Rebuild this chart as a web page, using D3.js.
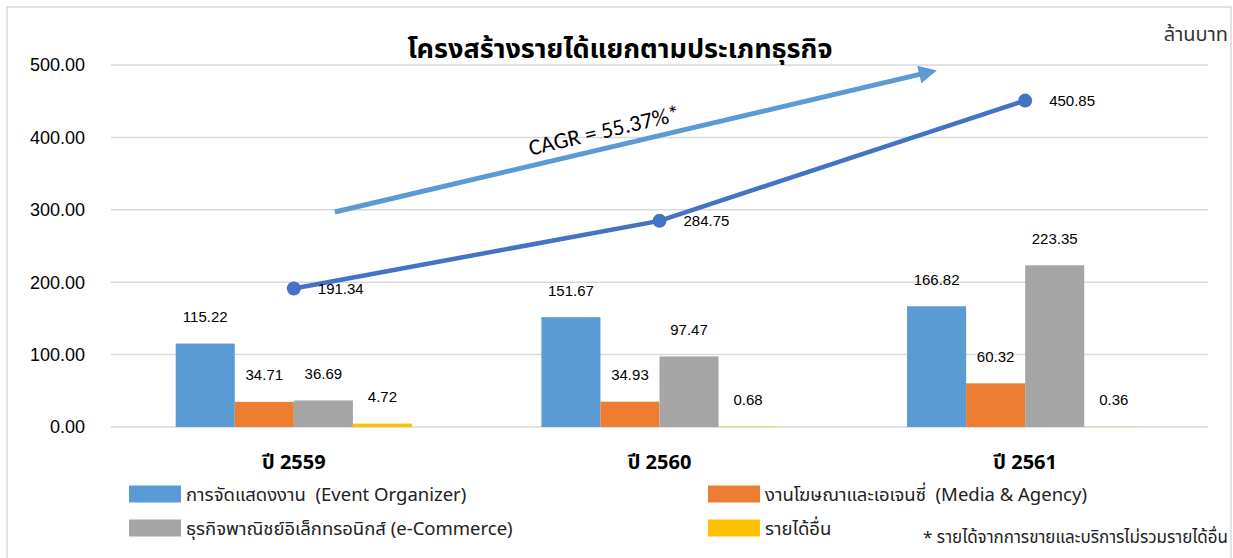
<!DOCTYPE html>
<html>
<head>
<meta charset="utf-8">
<script src="https://cdn.jsdelivr.net/npm/d3@7"></script>
<style>
  body { margin: 0; background: #fff; }
  svg text { font-family: "Liberation Sans", Arial, "Noto Sans Thai", "Noto Sans", sans-serif; }
  .thai { font-family: "Noto Sans Thai", "Tahoma", "Loma", "Garuda", "Noto Sans", sans-serif; }
  .pre { white-space: pre; }
</style>
</head>
<body>
<div id="chart"></div>
<script>
// data
const years = ["ปี 2559", "ปี 2560", "ปี 2561"];
const seriesNames = [
  "การจัดแสดงงาน  (Event Organizer)",
  "งานโฆษณาและเอเจนซี่  (Media & Agency)",
  "ธุรกิจพาณิชย์อิเล็กทรอนิกส์ (e-Commerce)",
  "รายได้อื่น"
];
const eventOrganizer = [115.22, 151.67, 166.82];
const mediaAgency = [34.71, 34.93, 60.32];
const eCommerce = [36.69, 97.47, 223.35];
const otherIncome = [4.72, 0.68, 0.36];
const totalIncome = [191.34, 284.75, 450.85];
const yTicks = [0, 100, 200, 300, 400, 500];
const colors = ["#5B9BD5", "#ED7D31", "#A5A5A5", "#FFC000"];

const width = 1233, height = 558;
const margins = { top: 65, right: 25, bottom: 131, left: 111 };
const visWidth = width - margins.left - margins.right;
const visHeight = height - margins.top - margins.bottom;

const svg = d3.select("#chart").append("svg").attr("width", width).attr("height", height);

// outer frame
svg.append("rect").attr("x", 7).attr("y", 7).attr("width", 1224).attr("height", 560)
  .attr("fill", "none").attr("stroke", "#d9d9d9").attr("stroke-width", 1.5);

const viewport = svg.append("g").attr("transform", "translate(" + margins.left + "," + margins.top + ")");

const x = d3.scaleBand().domain(years).range([0, visWidth]).paddingInner(0.354).paddingOuter(0.177);
const keys = [0, 1, 2, 3];
const xSub = d3.scaleBand().domain(keys).range([0, x.bandwidth()]);
const y = d3.scaleLinear().domain([0, 500]).range([visHeight, 0]);

// gridlines
viewport.append("g").selectAll("line").data(yTicks).enter().append("line")
  .attr("x1", 0).attr("x2", visWidth)
  .attr("y1", d => y(d)).attr("y2", d => y(d))
  .attr("stroke", "#d9d9d9").attr("stroke-width", 1.5);

// y axis labels
viewport.append("g").selectAll("text").data(yTicks).enter().append("text")
  .attr("x", -26).attr("y", d => y(d)).attr("dy", "0.36em")
  .attr("text-anchor", "end").style("font-size", "18px").attr("fill", "#000")
  .text(d => d3.format(".2f")(d));

// x axis labels
viewport.append("g").selectAll("text").data(years).enter().append("text")
  .attr("class", "thai")
  .attr("x", d => x(d) + x.bandwidth() / 2).attr("y", visHeight + 42)
  .attr("text-anchor", "middle").style("font-size", "20px").style("font-weight", "bold")
  .text(d => d);

// bars
const allSeries = [eventOrganizer, mediaAgency, eCommerce, otherIncome];
const barData = [];
years.forEach((yr, i) => {
  allSeries.forEach((s, k) => barData.push({ year: yr, key: k, value: s[i] }));
});

viewport.append("g").selectAll("rect").data(barData).enter().append("rect")
  .attr("x", d => x(d.year) + xSub(d.key))
  .attr("y", d => y(d.value))
  .attr("width", xSub.bandwidth())
  .attr("height", d => visHeight - y(d.value))
  .attr("fill", d => colors[d.key]);

viewport.append("g").selectAll("text").data(barData).enter().append("text")
  .attr("x", d => x(d.year) + xSub(d.key) + xSub.bandwidth() / 2)
  .attr("y", d => y(d.value) - 27).attr("dy", "0.36em")
  .attr("text-anchor", "middle").style("font-size", "15px").attr("fill", "#000")
  .text(d => d3.format(".2f")(d.value));

// CAGR arrow (annotation, in data units)
const xc = d3.scaleLinear().domain([0, years.length - 1])
  .range([x(years[0]) + x.bandwidth() / 2, x(years[years.length - 1]) + x.bandwidth() / 2]);
const arrowFrom = { i: 0.112, v: 297 };
const arrowTo = { i: 1.72, v: 488 };

svg.append("defs").append("marker")
  .attr("id", "arrowhead").attr("viewBox", "0 0 10 10").attr("refX", 2).attr("refY", 5)
  .attr("markerWidth", 4.2).attr("markerHeight", 3.6).attr("orient", "auto")
  .attr("markerUnits", "strokeWidth")
  .append("path").attr("d", "M0,0 L10,5 L0,10 z").attr("fill", "#5B9BD5");

viewport.append("line")
  .attr("x1", xc(arrowFrom.i)).attr("y1", y(arrowFrom.v))
  .attr("x2", xc(arrowTo.i)).attr("y2", y(arrowTo.v))
  .attr("stroke", "#5B9BD5").attr("stroke-width", 5)
  .attr("marker-end", "url(#arrowhead)");

const ax1 = xc(arrowFrom.i), ay1 = y(arrowFrom.v), ax2 = xc(arrowTo.i), ay2 = y(arrowTo.v);
const angle = Math.atan2(ay2 - ay1, ax2 - ax1) * 180 / Math.PI;
const mx = ax1 + (ax2 - ax1) * 0.465, my = ay1 + (ay2 - ay1) * 0.465;
viewport.append("text")
  .attr("transform", "translate(" + mx + "," + my + ") rotate(" + angle + ")")
  .attr("y", -10).attr("text-anchor", "middle")
  .style("font-family", "Carlito, Lato, 'Open Sans', sans-serif").style("font-size", "23px")
  .text("CAGR = 55.37%*");

// total line
const line = d3.line().x((d, i) => x(years[i]) + x.bandwidth() / 2).y(d => y(d));
viewport.append("path").datum(totalIncome).attr("d", line)
  .attr("fill", "none").attr("stroke", "#4472C4").attr("stroke-width", 4.5);
viewport.append("g").selectAll("circle").data(totalIncome).enter().append("circle")
  .attr("cx", (d, i) => x(years[i]) + x.bandwidth() / 2).attr("cy", d => y(d))
  .attr("r", 7).attr("fill", "#4472C4");
viewport.append("g").selectAll("text").data(totalIncome).enter().append("text")
  .attr("x", (d, i) => x(years[i]) + x.bandwidth() / 2 + 24).attr("y", d => y(d)).attr("dy", "0.36em")
  .style("font-size", "15px").attr("fill", "#000")
  .text(d => d3.format(".2f")(d));

// title + unit
svg.append("text").attr("class", "thai").attr("x", 620).attr("y", 58)
  .attr("text-anchor", "middle").style("font-size", "27px").style("font-weight", "bold")
  .text("โครงสร้างรายได้แยกตามประเภทธุรกิจ");
svg.append("text").attr("class", "thai").attr("x", 1228).attr("y", 41)
  .attr("text-anchor", "end").style("font-size", "20px").attr("fill", "#333")
  .text("ล้านบาท");

// legend
const legendPos = [[129, 494], [708, 494], [129, 528], [708, 528]];
const legend = svg.append("g").selectAll("g").data(seriesNames).enter().append("g")
  .attr("transform", (d, i) => "translate(" + legendPos[i][0] + "," + legendPos[i][1] + ")");
legend.append("rect").attr("x", 0).attr("y", -8.5).attr("width", 52).attr("height", 17)
  .attr("fill", (d, i) => colors[i]);
legend.append("text").attr("class", "thai pre").attr("x", 57).attr("dy", "0.36em")
  .style("font-size", "18.5px").attr("fill", "#222").text(d => d);

svg.append("text").attr("class", "thai").attr("x", 1228).attr("y", 543)
  .attr("text-anchor", "end").style("font-size", "17px").attr("fill", "#222")
  .text("* รายได้จากการขายและบริการไม่รวมรายได้อื่น");
</script>
</body>
</html>
